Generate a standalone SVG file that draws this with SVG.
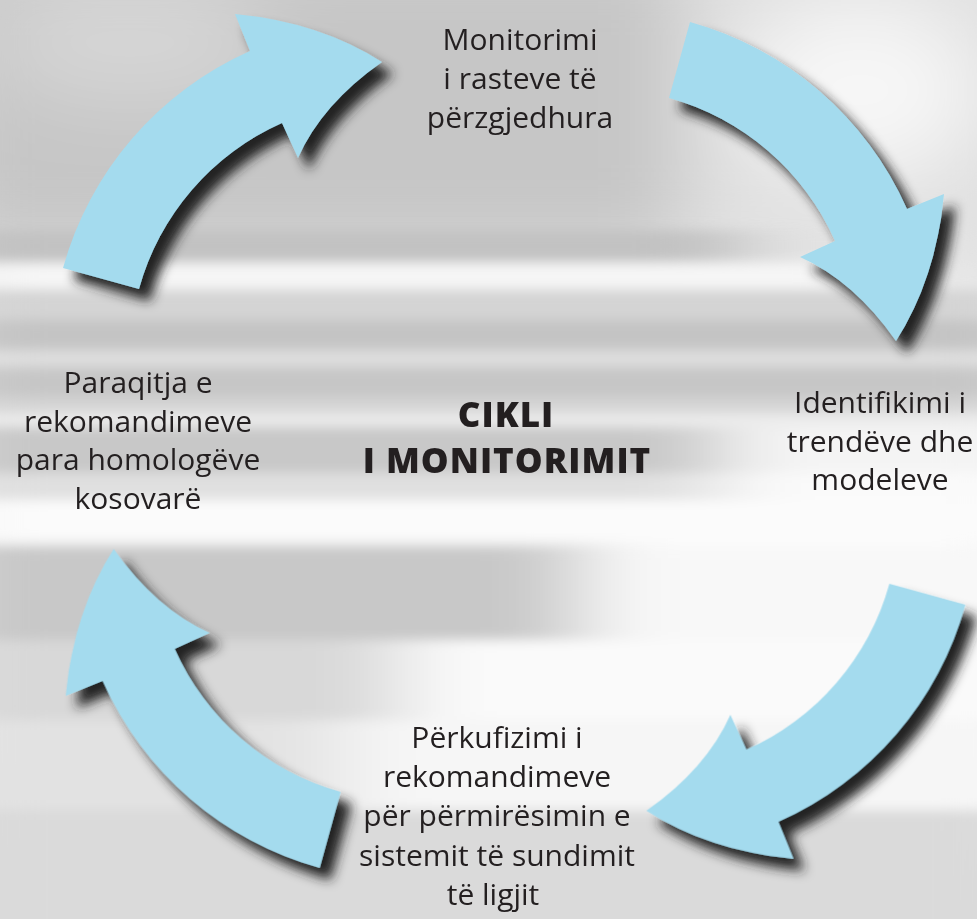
<svg xmlns="http://www.w3.org/2000/svg" xmlns:xlink="http://www.w3.org/1999/xlink" width="977" height="919" viewBox="0 0 977 919">
<defs>
<style>
.lbl{font-family:"Open Sans","Noto Sans","Liberation Sans",sans-serif;font-size:30px;fill:#231f20;text-anchor:middle}
.ttl{font-family:"Open Sans","Noto Sans","Liberation Sans",sans-serif;font-size:35px;font-weight:800;fill:#231f20;text-anchor:middle;letter-spacing:1px}
.arr{fill:#a4dbee}
</style>
<filter id="blurH" filterUnits="userSpaceOnUse" x="-100" y="-100" width="1200" height="1150">
<feGaussianBlur stdDeviation="45 6"/>
</filter>
<filter id="blurS" filterUnits="userSpaceOnUse" x="-100" y="-100" width="1200" height="1150">
<feGaussianBlur stdDeviation="40"/>
</filter>
<filter id="shadow" filterUnits="userSpaceOnUse" x="-50" y="-50" width="1100" height="1050">
<feGaussianBlur in="SourceAlpha" stdDeviation="6"/>
<feOffset dx="11" dy="12" result="o"/>
<feFlood flood-color="#222222" flood-opacity="1"/>
<feComposite in2="o" operator="in" result="s"/>
<feMerge><feMergeNode in="s"/><feMergeNode in="SourceGraphic"/></feMerge>
</filter>
<path id="arrow" class="arr" d="M63,268 A335,335 0 0 1 250,51 L235,14 Q319.5,22 382,62 Q322,104 298,158 L282,123 A256,256 0 0 0 139,289 Z"/>
</defs>

<g id="background">
<rect width="977" height="919" fill="#e8e8e8"/>
<g filter="url(#blurS)">
<rect x="-60" y="-60" width="740" height="320" fill="#c6c6c6"/>
<rect x="680" y="-60" width="360" height="320" fill="#e0e0e0"/>
<ellipse cx="860" cy="90" rx="120" ry="90" fill="#f6f6f6"/>
<ellipse cx="130" cy="40" rx="140" ry="60" fill="#d6d6d6"/>
<rect x="-60" y="800" width="1100" height="180" fill="#d9d9d9"/>
<rect x="600" y="420" width="420" height="420" fill="#fbfbfb"/>
</g>
<g filter="url(#blurH)">
<rect x="-60" y="230" width="800" height="32" fill="#c2c2c2"/>
<rect x="-60" y="263" width="960" height="26" fill="#f6f6f6"/>
<rect x="-60" y="290" width="1100" height="30" fill="#d4d4d4"/>
<rect x="-60" y="320" width="1100" height="30" fill="#c4c4c4"/>
<rect x="-60" y="350" width="1100" height="17" fill="#dedede"/>
<rect x="-60" y="367" width="1100" height="30" fill="#c6c6c6"/>
<rect x="-60" y="397" width="1100" height="16" fill="#d4d4d4"/>
<rect x="-60" y="413" width="1100" height="14" fill="#ececec"/>
<rect x="-60" y="427" width="780" height="46" fill="#c8c8c8"/>
<rect x="720" y="427" width="320" height="46" fill="#f4f4f4"/>
<rect x="-60" y="473" width="780" height="27" fill="#e0e0e0"/>
<rect x="720" y="473" width="320" height="27" fill="#fafafa"/>
<rect x="-60" y="500" width="1100" height="42" fill="#fbfbfb"/>
<rect x="-60" y="547" width="640" height="93" fill="#c8c8c8"/>
<rect x="580" y="547" width="460" height="93" fill="#f8f8f8"/>
<rect x="-60" y="640" width="460" height="80" fill="#d8d8d8"/>
<rect x="400" y="640" width="640" height="80" fill="#fafafa"/>
<rect x="-60" y="720" width="400" height="90" fill="#e2e2e2"/>
<rect x="340" y="720" width="700" height="90" fill="#f6f6f6"/>
<rect x="-60" y="810" width="1100" height="150" fill="#dadada"/>
</g>
</g>

<g id="connectors" filter="url(#shadow)">
<use xlink:href="#arrow" href="#arrow"/>
<use xlink:href="#arrow" href="#arrow" transform="rotate(90 499.5 458.5)"/>
<use xlink:href="#arrow" href="#arrow" transform="rotate(180 514.2 436.4)"/>
<use xlink:href="#arrow" href="#arrow" transform="rotate(270 491.3 439.6)"/>
</g>

<g id="node-top">
<text class="lbl" x="520" y="50">Monitorimi</text>
<text class="lbl" x="520" y="89">i rasteve të</text>
<text class="lbl" x="520" y="128">përzgjedhura</text>
</g>
<g id="node-right">
<text class="lbl" x="880" y="413">Identifikimi i</text>
<text class="lbl" x="880" y="452">trendëve dhe</text>
<text class="lbl" x="880" y="490">modeleve</text>
</g>
<g id="node-bottom">
<text class="lbl" x="497" y="748">Përkufizimi i</text>
<text class="lbl" x="497" y="787">rekomandimeve</text>
<text class="lbl" x="497" y="826">për përmirësimin e</text>
<text class="lbl" x="497" y="866">sistemit të sundimit</text>
<text class="lbl" x="493" y="905">të ligjit</text>
</g>
<g id="node-left">
<text class="lbl" x="138" y="393">Paraqitja e</text>
<text class="lbl" x="138" y="431.5">rekomandimeve</text>
<text class="lbl" x="138" y="470">para homologëve</text>
<text class="lbl" x="138" y="508.5">kosovarë</text>
</g>
<g id="node-center">
<text class="ttl" x="506" y="427">CIKLI</text>
<text class="ttl" x="507" y="473">I MONITORIMIT</text>
</g>
</svg>
